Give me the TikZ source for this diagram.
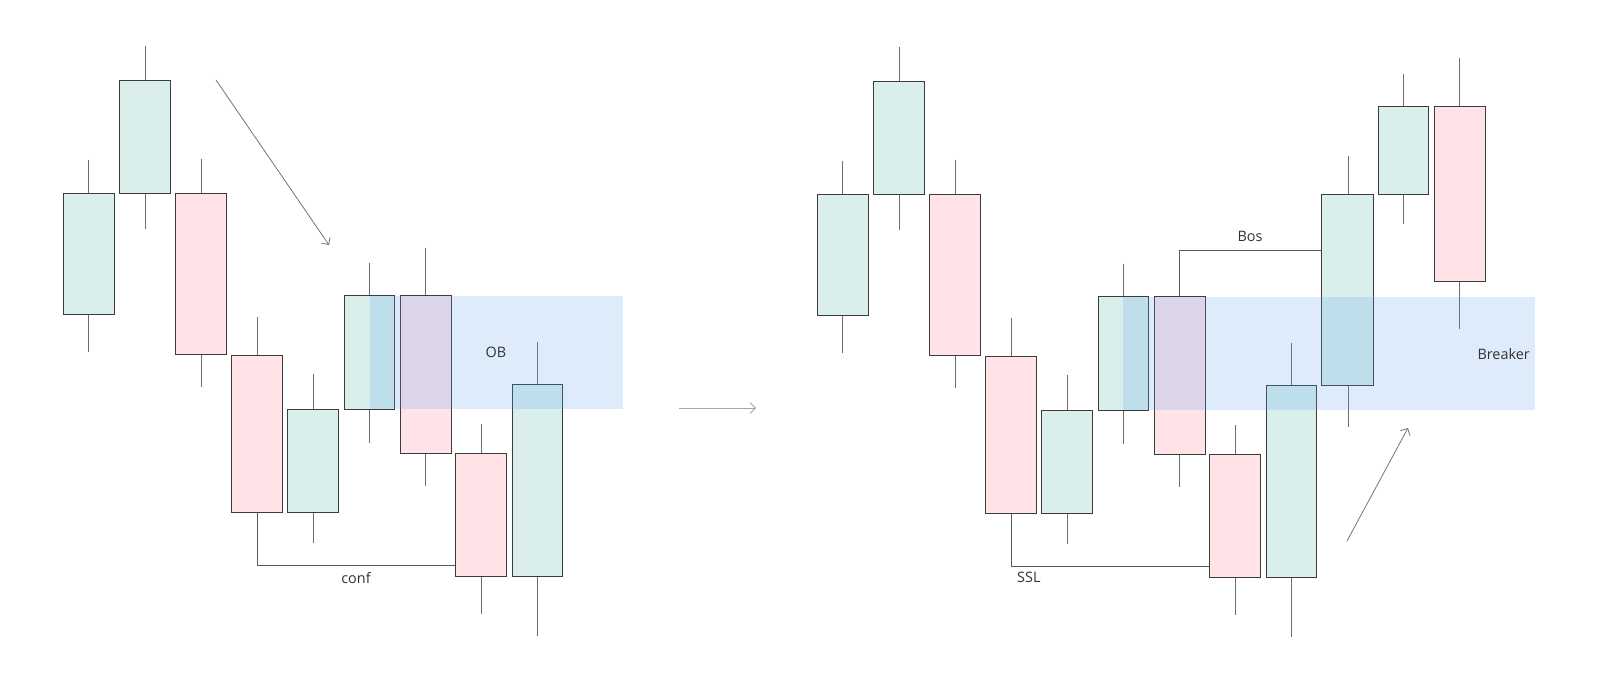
\documentclass[tikz,border=0pt]{standalone}
\usepackage{fontspec}
\setmainfont{Open Sans}
\usetikzlibrary{arrows.meta}
\definecolor{kgruen}{HTML}{DAEFEB}
\definecolor{krot}{HTML}{FFE3E6}
\definecolor{zblau}{HTML}{5DA0EC}
\definecolor{rand}{HTML}{3C3C3C}
\definecolor{schrift}{HTML}{333333}
\begin{document}
\begin{tikzpicture}[x=0.02cm, y=-0.02cm,
	gruen/.style={draw=rand, fill=kgruen, line width=0.4pt},
	rot/.style={draw=rand, fill=krot, line width=0.4pt},
	docht/.style={draw=rand!75, line width=0.4pt},
	zone/.style={fill=zblau, fill opacity=0.21},
	linie/.style={draw=rand!85, line width=0.4pt},
	pfeil/.style={draw=black!55, line width=0.45pt, -{Straight Barb[length=3pt,width=6pt]}},
	txt/.style={text=schrift, font=\fontsize{8.2}{10}\selectfont}]
\useasboundingbox (0,0) rectangle (1600,689);

% links: Order Block
\begin{scope}[local bounding box=links]
	% Kerzen zeichnen
	\draw[docht] (88,160) -- (88,352);   \draw[gruen] (63,193) rectangle (114,314);
	\draw[docht] (145,46) -- (145,229);  \draw[gruen] (119,80) rectangle (170,193);
	\draw[docht] (201,159) -- (201,387); \draw[rot] (175,193) rectangle (226,354);
	\draw[docht] (257,317) -- (257,355); \draw[rot] (231,355) rectangle (282,512);
	\draw[docht] (313,374) -- (313,543); \draw[gruen] (287,409) rectangle (338,512);
	\draw[docht] (369,263) -- (369,443); \draw[gruen] (344,295) rectangle (394,409);
	\draw[docht] (425,248) -- (425,486); \draw[rot] (400,295) rectangle (451,453);
	\draw[docht] (481,424) -- (481,614); \draw[rot] (455,453) rectangle (506,576);
	\draw[docht] (537,342) -- (537,636); \draw[gruen] (512,384) rectangle (562,576);
	% Zone
	\fill[zone] (370,296) rectangle (623,409);
	\node[txt] (ob) at (496,352) {OB};
	% Bestaetigung
	\coordinate (k4u) at (257,512);
	\coordinate (k8l) at (455,565);
	\draw[linie] (k4u) |- node[txt, pos=0.75, below=1pt] (conf) {conf} (k8l);
	% Trendpfeil
	\coordinate (tA) at (216,80);
	\coordinate (tB) at (329,245);
	\draw[pfeil] (tA) -- (tB);
\end{scope}

% Verbindungspfeil
\coordinate (vA) at (679,408);
\coordinate (vB) at (756,408);
\draw[pfeil, draw=black!35] (vA) -- (vB);

% rechts: Breaker
\begin{scope}[local bounding box=rechts, shift={(754,1)}]
	% Kerzen zeichnen
	\draw[docht] (88,160) -- (88,352);   \draw[gruen] (63,193) rectangle (114,314);
	\draw[docht] (145,46) -- (145,229);  \draw[gruen] (119,80) rectangle (170,193);
	\draw[docht] (201,159) -- (201,387); \draw[rot] (175,193) rectangle (226,354);
	\draw[docht] (257,317) -- (257,355); \draw[rot] (231,355) rectangle (282,512);
	\draw[docht] (313,374) -- (313,543); \draw[gruen] (287,409) rectangle (338,512);
	\draw[docht] (369,263) -- (369,443); \draw[gruen] (344,295) rectangle (394,409);
	\draw[docht] (425,295) -- (425,486); \draw[rot] (400,295) rectangle (451,453);
	\draw[docht] (481,424) -- (481,614); \draw[rot] (455,453) rectangle (506,576);
	\draw[docht] (537,342) -- (537,636); \draw[gruen] (512,384) rectangle (562,576);
	\draw[docht] (594,155) -- (594,426); \draw[gruen] (567,193) rectangle (619,384);
	\draw[docht] (649,73) -- (649,223);  \draw[gruen] (624,105) rectangle (674,193);
	\draw[docht] (705,57) -- (705,328);  \draw[rot] (680,105) rectangle (731,280);
	% Zone
	\fill[zone] (369,296) rectangle (781,409);
	\node[txt, anchor=east] (breaker) at (782,353) {Breaker};
	% SSL
	\coordinate (r4u) at (257,512);
	\coordinate (r8l) at (455,565);
	\draw[linie] (r4u) |- node[txt, pos=0.5, anchor=north west] (ssl) {SSL} (r8l);
	% Bos
	\coordinate (r7o) at (425,295);
	\coordinate (r10l) at (567,249);
	\draw[linie] (r7o) |- node[txt, pos=0.75, above=1pt] (bos) {Bos} (r10l);
	% Trendpfeil
	\coordinate (uA) at (593,540);
	\coordinate (uB) at (654,427);
	\draw[pfeil] (uA) -- (uB);
\end{scope}
\end{tikzpicture}
\end{document}
